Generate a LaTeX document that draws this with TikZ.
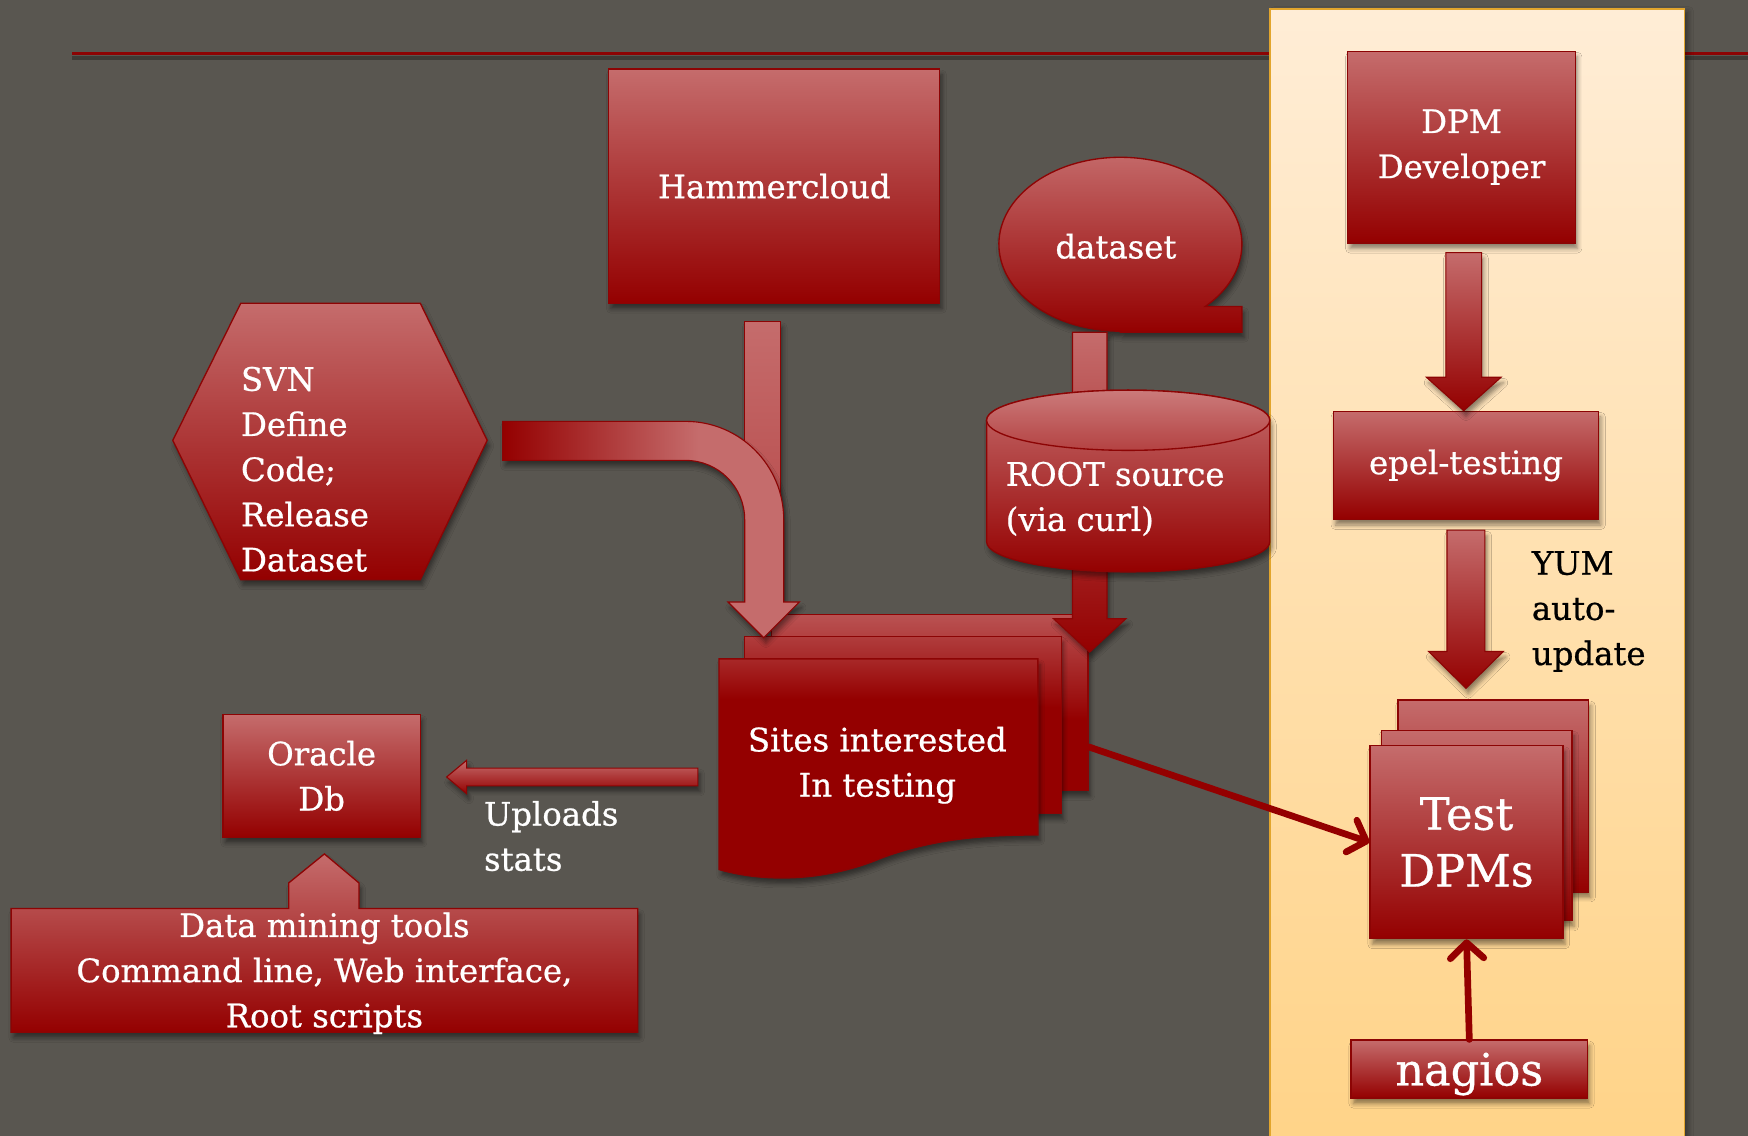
\documentclass[tikz,border=0pt]{standalone}
\usepackage{fontspec}
\setmainfont{DejaVu Serif}[FakeBold=0.7]
\usetikzlibrary{shadows,shadows.blur,arrows.meta,calc}
\definecolor{bg}{RGB}{89,86,80}
\definecolor{redlight}{RGB}{197,108,108}
\definecolor{redmid}{RGB}{180,66,66}
\definecolor{reddark}{RGB}{148,0,0}
\definecolor{redline}{RGB}{140,4,4}
\definecolor{pageA}{RGB}{186,82,82}
\definecolor{pageB}{RGB}{176,60,60}
\definecolor{pageC}{RGB}{168,40,40}
\definecolor{panelTop}{RGB}{255,237,214}
\definecolor{panelBot}{RGB}{255,211,135}
\definecolor{panelEdge}{RGB}{226,165,45}
\pgfdeclareverticalshading{pageback}{100bp}{color(0bp)=(reddark); color(25bp)=(reddark); color(45bp)=(reddark); color(75bp)=(pageA); color(100bp)=(pageA)}
\pgfdeclareverticalshading{pagemid}{100bp}{color(0bp)=(reddark); color(25bp)=(reddark); color(55bp)=(reddark); color(75bp)=(pageB); color(100bp)=(pageB)}
\pgfdeclareverticalshading{pagefront}{100bp}{color(0bp)=(reddark); color(25bp)=(reddark); color(66bp)=(reddark); color(75bp)=(pageC); color(100bp)=(pageC)}
\pgfdeclarehorizontalshading{bendshade}{100bp}{color(0bp)=(reddark); color(25bp)=(reddark); color(58bp)=(redlight); color(100bp)=(redlight)}
% vertical block arrow: style, top point, tip point, half shaft, half head, head length
\newcommand\vblock[6]{%
  \path[#1] let \p1=(#2), \p2=(#3) in
    (\x1-#4,\y1) -- (\x1+#4,\y1) -- (\x1+#4,\y2+#6) -- (\x1+#5,\y2+#6) -- (\x1,\y2)
    -- (\x1-#5,\y2+#6) -- (\x1-#4,\y2+#6) -- cycle;}
\tikzset{
  shadowed/.style={blur shadow={shadow xshift=2pt, shadow yshift=-5pt, shadow blur radius=4pt, shadow opacity=45}},
  redshape/.style={draw=redline, line width=1.2pt, top color=redlight, bottom color=reddark, shadowed},
  rbox/.style={redshape, text=white, font=\fontsize{29}{40.5}\selectfont, align=center, inner sep=0pt},
  wtext/.style={text=white, font=\fontsize{29}{40.5}\selectfont, inner sep=0pt, align=left},
  btext/.style={text=black, font=\fontsize{29}{40.5}\selectfont, inner sep=0pt, align=left},
  blockarrow/.style={draw=redline, line width=1pt, top color=redlight, bottom color=reddark, shadowed},
  pagebox/.style={draw=redline, line width=1.2pt, inner sep=0pt, shadowed},
  link/.style={draw=reddark, line width=6pt, line cap=round,
    -{Straight Barb[length=14pt,width=30pt,round]}},
}
\begin{document}
\begin{tikzpicture}[x=1pt,y=1pt]
\useasboundingbox (0,0) rectangle (1568,1019);
\fill[bg] (0,0) rectangle (1568,1019);
% top rule
\draw[black, opacity=0.3, line width=4pt] (65,967) -- (1568,967);
\draw[redline, line width=3pt] (65,971) -- (1568,971);
% panel
\path[draw=panelEdge, line width=1.5pt, top color=panelTop, bottom color=panelBot,
  blur shadow={shadow xshift=4pt, shadow yshift=-2pt, shadow blur radius=4pt, shadow opacity=35}]
  (1139,-20) rectangle (1511,1011);

% Sites interested (multi document)
\node[pagebox, shading=pageback, minimum width=284pt, minimum height=158pt] (sback) at (834,389) {};
\node[pagebox, shading=pagemid, minimum width=284pt, minimum height=159pt] (smid) at (810,368.5) {};
\path[draw=redline, line width=1.2pt, shading=pagefront, shadowed]
  (645,428) -- (931,428) -- (931,270) .. controls (880,270) and (835,266) .. (790,249)
  .. controls (745,230) and (690,226) .. (645,239) -- cycle;
\node[wtext, align=center] (sites) at (787,332.5) {Sites interested\\In testing};
\coordinate (sitesW) at (645,322);

% Hammercloud
\node[rbox, minimum width=297pt, minimum height=210pt] (hc) at (694.5,852) {Hammercloud};

% dataset (sequential storage shape)
\path[redshape] (1005,721) -- (1114,721) -- (1114,744) -- (1081,744)
  arc[start angle=-45.8, end angle=270, x radius=109, y radius=78] -- cycle;
\node[wtext] (ds) at (1001,798) {dataset};

% ROOT arrow (behind cylinder)
\vblock{blockarrow}{977.5,721}{977.5,434}{15.5}{32.5}{30}

% ROOT source cylinder
\path[redshape] (885,642) -- (885,533)
  arc[start angle=180, end angle=360, x radius=127, y radius=27] -- (1139,642)
  arc[start angle=0, end angle=180, x radius=127, y radius=27] -- cycle;
\path[draw=redline, line width=1.2pt, top color=redlight!90!white, bottom color=redmid]
  (1012,642) ellipse[x radius=127, y radius=27];
\node[wtext, anchor=west] (root) at (902,571.5) {ROOT source\\(via curl)};

% Hammercloud shaft
\path[draw=redline, line width=1pt, top color=redlight, bottom color=redmid, shadowed]
  ($(hc.south)+(-26.5,-16)$) rectangle (700,479);

% SVN bent arrow
\path[draw=redline, line width=1pt, shading=bendshade, shadowed]
  (451,641) -- (615,641) arc[start angle=90, end angle=0, radius=88] -- (703,479)
  -- (717,479) -- (685,447) -- (653,479) -- (668,479) -- (668,553)
  arc[start angle=0, end angle=90, radius=53] -- (451,606) -- cycle;

% SVN hexagon
\path[redshape] (216,747) -- (377,747) -- (437,624) -- (377,499) -- (216,499) -- (155,624) -- cycle;
\node[wtext, anchor=west] (svn) at (216,598) {SVN\\Define\\Code;\\Release\\Dataset};

% Oracle Db
\node[rbox, minimum width=177pt, minimum height=110pt] (oracle) at (288.5,323) {Oracle\\Db};

% Uploads arrow
\path[blockarrow] let \p1=($(sitesW)+(-19,0)$), \p2=($(oracle.east)+(23,-1)$) in
  (\x1,\y2-8) -- (\x2+18,\y2-8) -- (\x2+18,\y2-15) -- (\x2,\y2) -- (\x2+18,\y2+15)
  -- (\x2+18,\y2+8) -- (\x1,\y2+8) -- cycle;
\node[wtext, anchor=west] (upl) at (434,269) {Uploads\\stats};

% Data mining tools
\path[redshape] (10,93) -- (10,204) -- (259,204) -- (259,227) -- (291,253) -- (322,227)
  -- (322,204) -- (572,204) -- (572,93) -- cycle;
\node[wtext, align=center] (mine) at (291,146) {Data mining tools\\Command line, Web interface,\\Root scripts};

% right panel
\node[rbox, minimum width=204pt, minimum height=172pt] (dev) at (1311,887) {DPM\\Developer};
\node[rbox, minimum width=238pt, minimum height=97pt] (epel) at (1315,601.5) {epel-testing};
\vblock{blockarrow}{$(dev.south)+(2,-8)$}{epel.north}{16}{33.5}{30}
\node[rbox, minimum width=171pt, minimum height=172pt] (tback) at (1339.5,305) {};
\node[rbox, minimum width=171pt, minimum height=171pt] (tmid) at (1324.5,278.5) {};
\node[rbox, minimum width=173pt, minimum height=173pt, font=\fontsize{40}{51}\selectfont] (tfront) at (1315.5,263.5) {Test\\DPMs};
\vblock{blockarrow}{$(epel.south)+(0,-9)$}{$(tback.north)+(0,10)$}{17}{33.5}{33}
\node[btext, anchor=west] (yum) at (1374,470.5) {YUM\\auto-\\update};
\node[rbox, minimum width=212pt, minimum height=52pt, text depth=0pt, font=\fontsize{40}{44}\selectfont] (nag) at (1318,60) {nagios};

% connectors
\draw[link] ([yshift=-40pt]sback.east) -- (tfront.west);
\draw[link] (nag.north) -- (tfront.south);
\end{tikzpicture}
\end{document}
